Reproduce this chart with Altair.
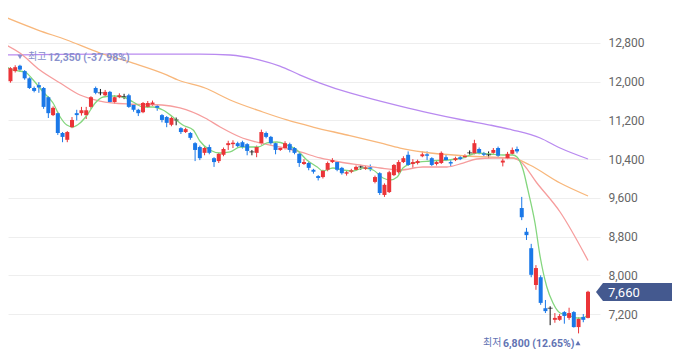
import altair as alt
import pandas as pd

# ---- daily candles (KRW) ----
opens = [12330, 12240, 12010, 12220, 12330, 12220, 12070, 11870, 11930, 11870,
         11680, 11310, 11350, 10940, 10800, 11060, 11350, 11350, 11310, 11480,
         11870, 11770, 11720, 11790, 11580, 11680, 11690, 11720, 11520, 11420,
         11370, 11480, 11530, 11500, 11310, 11270, 11110, 11210, 11040, 10960,
         10940, 10730, 10650, 10530, 10650, 10420, 10360, 10490, 10690, 10710,
         10730, 10750, 10710, 10550, 10530, 10730, 10940, 10860, 10730, 10590,
         10630, 10710, 10630, 10510, 10300, 10320, 10180, 10050, 10030, 10180,
         10340, 10340, 10220, 10100, 10140, 10180, 10240, 10200, 10230, 9930,
         10110, 9660, 9720, 10070, 10130, 10340, 10490, 10300, 10320, 10460,
         10500, 10420, 10300, 10320, 10440, 10340, 10380, 10440, 10440, 10530,
         10520, 10610, 10520, 10490, 10530, 10630, 10330, 10420, 10510, 10610,
         9390, 8900, 8560, 7800, 7960, 7320, 7320, 7080, 7080, 7240,
         7120, 7240, 6930, 7140, 7120]
highs = [12340, 12260, 12300, 12340, 12350, 12240, 12090, 11900, 11990, 11890,
         11700, 11490, 11380, 10960, 10980, 11270, 11420, 11480, 11480, 11700,
         11900, 11850, 11830, 11810, 11720, 11760, 11750, 11750, 11540, 11440,
         11580, 11600, 11610, 11530, 11330, 11290, 11280, 11260, 11060, 11050,
         10960, 10750, 10680, 10660, 10700, 10440, 10530, 10640, 10780, 10790,
         10760, 10780, 10730, 10590, 10680, 11010, 10970, 10880, 10750, 10650,
         10770, 10740, 10650, 10530, 10400, 10340, 10200, 10070, 10180, 10350,
         10420, 10360, 10240, 10160, 10200, 10270, 10280, 10260, 10290, 10060,
         10130, 9900, 10160, 10300, 10380, 10460, 10560, 10400, 10390, 10560,
         10560, 10440, 10370, 10560, 10500, 10380, 10450, 10470, 10500, 10580,
         10800, 10640, 10550, 10560, 10630, 10660, 10420, 10550, 10640, 10660,
         9620, 8980, 8650, 8210, 8000, 7490, 7360, 7220, 7200, 7260,
         7330, 7260, 7130, 7200, 7680]
lows = [12130, 11900, 11980, 12190, 12200, 12040, 11850, 11780, 11770, 11440,
        11250, 11290, 10900, 10750, 10750, 11040, 11200, 11300, 11230, 11440,
        11740, 11720, 11700, 11560, 11540, 11660, 11640, 11460, 11380, 11290,
        11350, 11460, 11500, 11400, 11160, 11060, 11080, 11100, 10920, 10940,
        10800, 10360, 10380, 10480, 10500, 10240, 10320, 10460, 10590, 10630,
        10640, 10620, 10480, 10480, 10440, 10700, 10830, 10700, 10500, 10570,
        10600, 10540, 10500, 10240, 10280, 10170, 10100, 9960, 10000, 10150,
        10320, 10150, 10080, 10060, 10110, 10160, 10180, 10180, 10150, 9900,
        9660, 9620, 9700, 10050, 10100, 10320, 10260, 10220, 10290, 10440,
        10380, 10260, 10270, 10300, 10360, 10240, 10360, 10380, 10420, 10490,
        10500, 10500, 10460, 10420, 10510, 10440, 10250, 10400, 10490, 10520,
        9140, 8730, 7960, 7700, 7390, 7220, 6970, 7020, 7060, 7000,
        7080, 6920, 6800, 7030, 7110]
closes = [12200, 11990, 12280, 12300, 12250, 12070, 11870, 11810, 11880, 11480,
          11350, 11460, 10940, 10860, 10960, 11210, 11310, 11410, 11410, 11680,
          11770, 11770, 11790, 11580, 11680, 11720, 11690, 11480, 11420, 11350,
          11560, 11560, 11570, 11460, 11210, 11150, 11250, 11210, 10960, 11020,
          10840, 10590, 10420, 10630, 10530, 10340, 10510, 10610, 10730, 10740,
          10670, 10650, 10570, 10550, 10650, 10960, 10860, 10730, 10590, 10630,
          10730, 10590, 10530, 10320, 10340, 10220, 10140, 10010, 10160, 10320,
          10380, 10180, 10110, 10130, 10170, 10240, 10240, 10230, 10200, 10030,
          9700, 9870, 10130, 10280, 10340, 10420, 10280, 10340, 10360, 10500,
          10470, 10280, 10340, 10530, 10380, 10310, 10420, 10400, 10470, 10530,
          10730, 10530, 10490, 10490, 10590, 10470, 10370, 10510, 10590, 10560,
          9200, 8830, 8010, 8150, 7430, 7260, 7320, 7120, 7160, 7160,
          7220, 6930, 7100, 7080, 7660]

# ---- moving averages (candle index, value) ----
ma5_i = [-0.2, 2.5, 5.1, 6.8, 8.9, 11.0, 12.5, 13.9, 15.2, 16.7, 18.2, 19.9, 21.6, 23.7,
         25.8, 27.9, 30.0, 32.1, 34.2, 36.3, 38.4, 40.6, 42.0, 44.1, 46.3, 48.4, 50.5,
         52.6, 54.3, 56.2, 58.3, 60.4, 62.5, 64.6, 66.8, 68.0, 70.1, 72.2, 74.4, 76.5,
         78.6, 80.7, 82.2, 83.7, 84.9, 87.0, 90.6, 94.2, 97.6, 100.5, 103.3, 106.0,
         108.1, 109.0, 110.3, 111.3, 112.8, 113.9, 115.3, 116.6, 118.1, 119.8, 121.7,
         122.9, 124.0]
ma5_v = [12386, 12242, 12200, 12035, 11787, 11560, 11271, 11105, 11064, 11147, 11312,
         11560, 11684, 11705, 11684, 11581, 11477, 11477, 11415, 11271, 11105, 11002,
         10775, 10589, 10527, 10548, 10651, 10651, 10651, 10734, 10754, 10692, 10589,
         10382, 10238, 10155, 10217, 10176, 10155, 10217, 10176, 10011, 9969, 10031,
         10217, 10320, 10362, 10382, 10424, 10527, 10506, 10486, 10486, 10444, 10176,
         9763, 9081, 8378, 7759, 7428, 7221, 7180, 7118, 7118, 7198]
ma20_i = [-0.2, 4.0, 8.2, 12.5, 16.7, 20.9, 26.8, 34.0, 37.8, 43.1, 46.3, 50.5, 54.7,
          58.9, 63.2, 67.4, 71.6, 75.8, 80.1, 84.3, 89.1, 94.2, 97.6, 100.5, 103.9,
          108.1, 109.6, 113.2, 118.1, 124.0]
ma20_v = [12820, 12593, 12242, 11973, 11725, 11601, 11539, 11519, 11457, 11250, 11064,
          10858, 10734, 10651, 10548, 10424, 10341, 10279, 10217, 10176, 10238, 10238,
          10320, 10403, 10424, 10424, 10362, 9907, 9308, 8306]
ma60_i = [-0.2, 7.8, 13.9, 20.9, 27.9, 35.1, 37.4, 43.1, 48.4, 55.3, 60.4, 65.9, 73.1,
          80.1, 84.3, 89.1, 98.4, 108.1, 111.7, 118.1, 124.0]
ma60_v = [13378, 13068, 12862, 12593, 12386, 12138, 12035, 11870, 11622, 11374, 11209,
          11064, 10899, 10734, 10630, 10548, 10465, 10424, 10279, 9907, 9639]
ma120_i = [-0.2, 20.9, 42.0, 48.4, 54.7, 58.9, 63.2, 67.4, 73.7, 80.1, 84.3, 90.6,
           97.6, 103.3, 108.1, 113.9, 118.1, 124.0]
ma120_v = [12552, 12572, 12572, 12552, 12448, 12324, 12138, 11973, 11767, 11601, 11498,
           11353, 11209, 11105, 11002, 10837, 10630, 10403]

y_ticks = [7200, 8000, 8800, 9600, 10400, 11200, 12000, 12800]
last_label = "7,660"
max_words = ["최고", "12,350 (-37.98%)"]
min_words = ["최저", "6,800 (12.65%)"]

# ---- frames ----
df = pd.DataFrame({"i": list(range(len(closes))), "open": opens, "high": highs,
                   "low": lows, "close": closes})
df["kind"] = ["up" if c > o else ("down" if c < o else "flat") for o, c in zip(opens, closes)]

W, H = 592, 337
xs = alt.Scale(domain=[1.479, 126.53], nice=False, zero=False, padding=0)
ys = alt.Scale(domain=[6560, 13523], nice=False, zero=False, padding=0)
cs = alt.Scale(domain=["up", "down", "flat"], range=["#eb3438", "#1a78e8", "#111111"])
X = alt.X("i:Q", scale=xs, axis=None)
YAX = alt.Axis(orient="right", values=y_ticks, labelExpr="format(datum.value, ',')",
               grid=True, gridColor="#eeeeee", gridWidth=1, ticks=False, domain=False,
               labelColor="#666666", labelFontSize=12, labelFont="Roboto",
               labelPadding=8, labelAlign="left", labelBaseline="middle", title=None)


def Y(field):
    return alt.Y(field, scale=ys, axis=YAX, title=None)


base = alt.Chart(df)
wick = base.mark_rule(strokeWidth=1, clip=True).encode(
    x=X, y=Y("low:Q"), y2="high:Q",
    color=alt.Color("kind:N", scale=cs, legend=None),
)
body = base.transform_filter("datum.kind != 'flat'").mark_bar(size=4, clip=True).encode(
    x=X, y=Y("open:Q"), y2="close:Q",
    color=alt.Color("kind:N", scale=cs, legend=None),
)
doji = base.transform_filter("datum.kind == 'flat'").mark_tick(
    orient="horizontal", size=5, thickness=1, clip=True).encode(
    x=X, y=Y("close:Q"),
    color=alt.Color("kind:N", scale=cs, legend=None),
)

lines = []
for idxs, vals, col in [(ma120_i, ma120_v, "#b98af0"), (ma60_i, ma60_v, "#f8b77b"),
                        (ma20_i, ma20_v, "#f69d9d"), (ma5_i, ma5_v, "#84d67e")]:
    mdf = pd.DataFrame({"i": idxs, "v": vals})
    lines.append(alt.Chart(mdf).mark_line(strokeWidth=1.3, clip=True, interpolate="monotone",
                                          color=col).encode(x=X, y=Y("v:Q")))

one = pd.DataFrame({"a": [0]})
ann = []
# tag for last price
ann.append(alt.Chart(one).mark_point(
    shape="M -1 0 L -0.816 -0.237 L 1 -0.237 L 1 0.237 L -0.816 0.237 Z",
    filled=True, size=5776, color="#44598f", opacity=1, strokeWidth=0).encode(
    x=alt.value(626), y=alt.value(284)))
ann.append(alt.Chart(one).mark_text(text=last_label, font="Roboto", fontSize=13, color="white",
                                    align="left", baseline="middle").encode(
    x=alt.value(600), y=alt.value(284.5)))
# max label
ann.append(alt.Chart(one).mark_point(shape="triangle-down", filled=True, size=26,
                                     color="#8890cc", opacity=1).encode(
    x=alt.value(12), y=alt.value(49)))
ann.append(alt.Chart(one).mark_text(text=max_words[0], font="Noto Sans CJK KR", fontSize=10,
                                    color="#8890cc", align="left", baseline="middle").encode(
    x=alt.value(20), y=alt.value(49)))
ann.append(alt.Chart(one).mark_text(text=max_words[1], font="Roboto", fontSize=10.5,
                                    fontWeight="bold", color="#8890cc", align="left",
                                    baseline="middle").encode(
    x=alt.value(40), y=alt.value(49.5)))
# min label
ann.append(alt.Chart(one).mark_text(text=min_words[0], font="Noto Sans CJK KR", fontSize=10,
                                    color="#6273b3", align="left", baseline="middle").encode(
    x=alt.value(475), y=alt.value(335)))
ann.append(alt.Chart(one).mark_text(text=min_words[1], font="Roboto", fontSize=10.5,
                                    fontWeight="bold", color="#6273b3", align="left",
                                    baseline="middle").encode(
    x=alt.value(495), y=alt.value(335.5)))
ann.append(alt.Chart(one).mark_point(shape="triangle-up", filled=True, size=26,
                                     color="#6273b3", opacity=1).encode(
    x=alt.value(570), y=alt.value(335)))

chart = alt.layer(wick, *lines, body, doji, *ann).properties(
    width=W, height=H, padding=0, background="white"
).configure_view(stroke=None)

chart.save("out.html", embed_options={"renderer": "svg", "actions": False})
